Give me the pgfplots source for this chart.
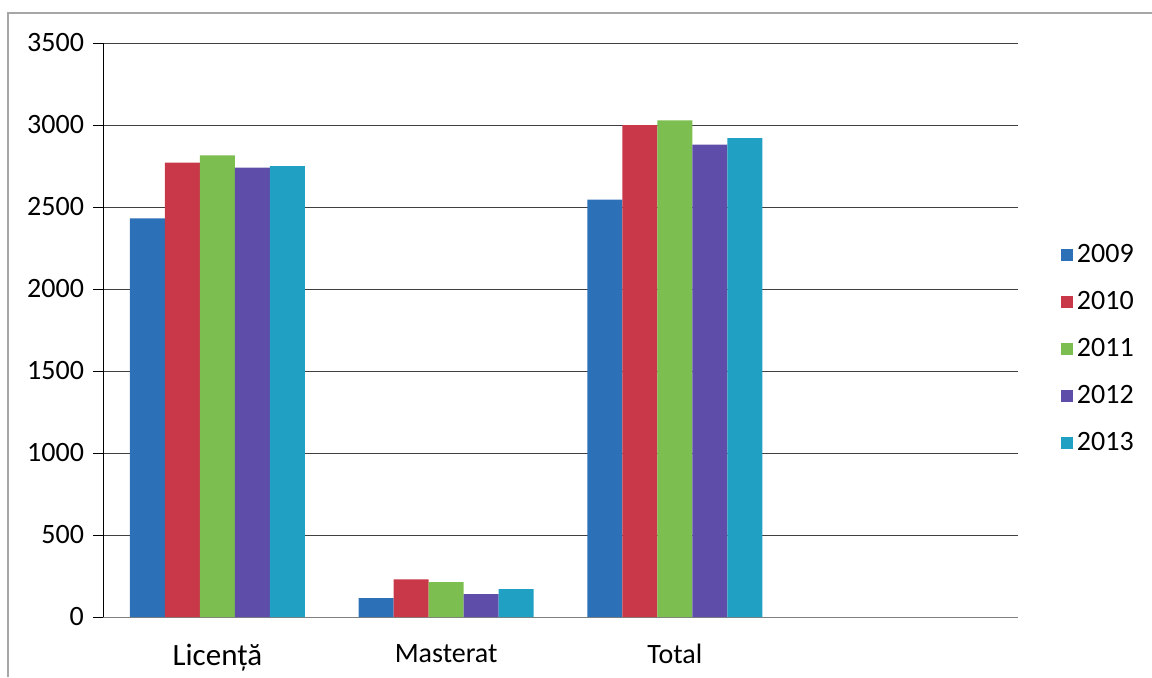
\documentclass[border=0pt]{standalone}
\usepackage{fontspec}
\setmainfont{Carlito}
\usepackage{pgfplots}
\pgfplotsset{compat=1.18}

\definecolor{c2009}{RGB}{44,112,184}
\definecolor{c2010}{RGB}{200,56,72}
\definecolor{c2011}{RGB}{124,190,80}
\definecolor{c2012}{RGB}{94,78,170}
\definecolor{c2013}{RGB}{32,160,194}

\begin{document}
\begin{tikzpicture}
\path[use as bounding box] (0,0) rectangle (576pt,338.5pt);
\draw[gray!70, line width=0.6pt] (4pt,0) -- (4pt,332pt) -- (576pt,332pt);
\begin{axis}[
    at={(51.5pt,30pt)}, anchor=south west,
    scale only axis,
    width=457.5pt, height=287pt,
    ybar=0pt, bar width=17.5pt,
    xmin=-0.5, xmax=3.5,
    ymin=0, ymax=3500,
    ytick={0,500,...,3500},
    xtick={0,1,2},
    xticklabels={{\fontsize{15.5}{18}\selectfont Licență},Masterat,Total},
    extra x ticks={-0.5,0.5,1.5,2.5,3.5},
    extra x tick labels={},
    extra x tick style={major tick length=5pt, tick align=outside, tick style={black}},
    major x tick style={draw=none},
    x tick label style={font=\fontsize{14}{16}\selectfont, yshift=-5pt},
    y tick label style={font=\fontsize{14}{16}\selectfont, xshift=-1pt},
    /pgf/number format/assume math mode=true,
    /pgf/number format/1000 sep={},
    ymajorgrids,
    grid style={black!75, line width=0.5pt},
    axis x line*=bottom, axis y line*=left,
    axis line style={-},
    x axis line style={gray},
    tick align=outside, major tick length=5pt,
    ytick style={black},
    every axis plot/.append style={draw=none,
      legend image code/.code={\fill[##1] (0pt,-3pt) rectangle (6pt,3pt);}},
    legend style={at={(1.04,0.467)}, anchor=west, draw=none,
      font=\fontsize{14}{16}\selectfont, row sep=9pt,
      /tikz/every even column/.append style={column sep=3pt}},
    legend cell align=left,
]
\addplot[fill=c2009] coordinates {(0,2430) (1,115) (2,2545)};
\addplot[fill=c2010] coordinates {(0,2770) (1,230) (2,3000)};
\addplot[fill=c2011] coordinates {(0,2815) (1,213) (2,3028)};
\addplot[fill=c2012] coordinates {(0,2740) (1,140) (2,2880)};
\addplot[fill=c2013] coordinates {(0,2750) (1,170) (2,2920)};
\legend{2009,2010,2011,2012,2013}
\end{axis}
\end{tikzpicture}
\end{document}
